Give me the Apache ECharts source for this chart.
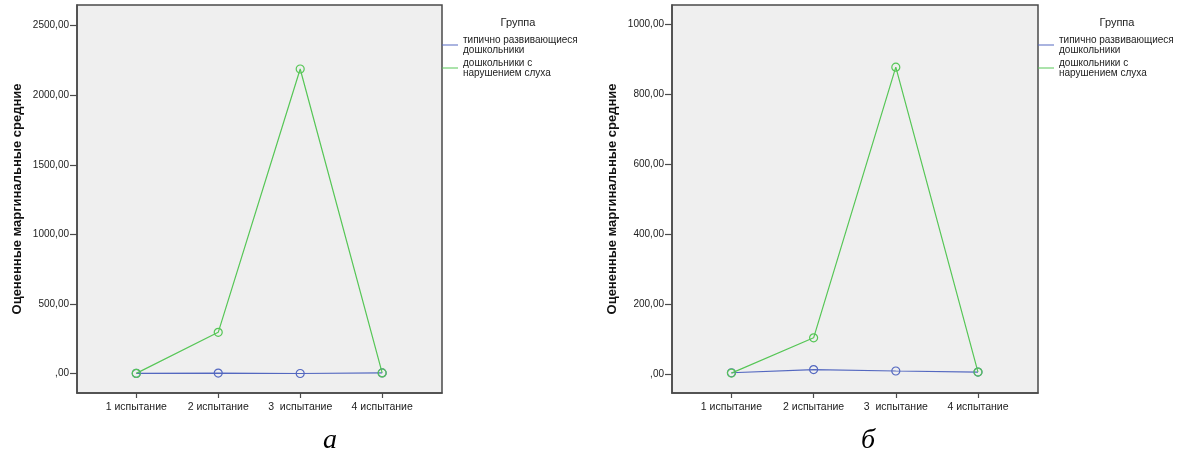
<!DOCTYPE html>
<html>
<head>
<meta charset="utf-8">
<script src="https://cdn.jsdelivr.net/npm/echarts@6/dist/echarts.min.js"></script>
<style>html,body{margin:0;padding:0;background:#fff}#c{width:1190px;height:457px}</style>
</head>
<body>
<div id="c"></div>
<script>
const categories = ['1 испытание', '2 испытание', '3  испытание', '4 испытание'];
const seriesNames = ['типично развивающиеся дошкольники', 'дошкольники с нарушением слуха'];
const legendLabels = ['типично развивающиеся\nдошкольники', 'дошкольники с\nнарушением слуха'];
const typicalA = [2, 4, 1, 5];
const hearingA = [2, 297, 2189, 5];
const typicalB = [3, 12, 8, 5];
const hearingB = [2, 103, 878, 5];
const yTicksA = [0, 500, 1000, 1500, 2000, 2500];
const yTicksB = [0, 200, 400, 600, 800, 1000];
const yRangeA = [-139, 2649];
const yRangeB = [-55, 1056];
const yAxisTitle = 'Оцененные маргинальные средние';
const legendTitle = 'Группа';
const panelLabels = ['а', 'б'];

const FONT = 'Arial, "Liberation Sans", sans-serif';
const BLUE = '#5468c0';
const GREEN = '#56c656';
const COLORS = [BLUE, GREEN];
const AXIS = '#4a4a4a';

function fmtY(v) {
  if (v === 0) return ',00';
  return v.toFixed(2).replace('.', ',');
}
function toPts(arr) { return arr.map((v, i) => [i + 1, v]); }

const grids = [
  { left: 77, top: 5, width: 365, height: 388 },
  { left: 672, top: 5, width: 366, height: 388 }
];

function xAxis(gi) {
  return {
    type: 'value', gridIndex: gi, min: 0.277, max: 4.73,
    axisLine: { show: true, onZero: false, lineStyle: { color: AXIS, width: 1.5 } },
    axisTick: { show: true, length: 5, customValues: [1, 2, 3, 4], lineStyle: { color: AXIS, width: 1.2 } },
    axisLabel: {
      customValues: [1, 2, 3, 4], margin: 9, color: '#222', fontSize: 10.5, fontFamily: FONT,
      formatter: v => categories[Math.round(v) - 1]
    },
    splitLine: { show: false }
  };
}
function yAxis(gi, range, ticks) {
  return {
    type: 'value', gridIndex: gi, min: range[0], max: range[1],
    name: yAxisTitle, nameLocation: 'middle', nameGap: 53,
    nameTextStyle: { fontSize: 13, fontWeight: 'bold', color: '#111', fontFamily: FONT },
    axisLine: { show: true, onZero: false, lineStyle: { color: AXIS, width: 1.5 } },
    axisTick: { show: true, length: 7, customValues: ticks, lineStyle: { color: AXIS, width: 1.2 } },
    axisLabel: { customValues: ticks, margin: 8, color: '#222', fontSize: 10, fontFamily: FONT, formatter: fmtY },
    splitLine: { show: false }
  };
}
function line(name, gi, data, color) {
  return {
    type: 'line', name: name, xAxisIndex: gi, yAxisIndex: gi, data: toPts(data),
    symbol: 'circle', symbolSize: 8, showSymbol: true,
    lineStyle: { color: color, width: 1.2 },
    itemStyle: { color: 'rgba(0,0,0,0)', borderColor: color, borderWidth: 1.2 },
    emphasis: { disabled: true }, animation: false
  };
}
function legend(left) {
  return {
    left: left, top: 35, padding: 0, orient: 'vertical', itemWidth: 16, itemHeight: 1, itemGap: 3,
    icon: 'rect', selectedMode: false,
    data: seriesNames.map((n, i) => ({ name: n, itemStyle: { color: COLORS[i], borderWidth: 0 } })),
    formatter: n => legendLabels[seriesNames.indexOf(n)],
    textStyle: { fontSize: 10, lineHeight: 10, color: '#222', fontFamily: FONT }
  };
}

const chart = echarts.init(document.getElementById('c'), null, { renderer: 'canvas' });
chart.setOption({
  animation: false,
  color: COLORS,
  grid: grids.map(g => Object.assign({ show: true, backgroundColor: '#efefef', borderColor: AXIS, borderWidth: 1.5 }, g)),
  xAxis: [xAxis(0), xAxis(1)],
  yAxis: [yAxis(0, yRangeA, yTicksA), yAxis(1, yRangeB, yTicksB)],
  legend: [legend(442), legend(1038)],
  title: [
    { text: legendTitle, left: 513, top: 12, textAlign: 'center', textStyle: { fontSize: 11, fontWeight: 'normal', color: '#222', fontFamily: FONT } },
    { text: legendTitle, left: 1112, top: 12, textAlign: 'center', textStyle: { fontSize: 11, fontWeight: 'normal', color: '#222', fontFamily: FONT } },
    { text: panelLabels[0], left: 325, top: 422, textAlign: 'center', textStyle: { fontSize: 28, fontStyle: 'italic', fontWeight: 'normal', color: '#000', fontFamily: '"Liberation Serif", "Times New Roman", serif' } },
    { text: panelLabels[1], left: 863, top: 422, textAlign: 'center', textStyle: { fontSize: 28, fontStyle: 'italic', fontWeight: 'normal', color: '#000', fontFamily: '"Liberation Serif", "Times New Roman", serif' } }
  ],
  series: [
    line(seriesNames[0], 0, typicalA, BLUE),
    line(seriesNames[1], 0, hearingA, GREEN),
    line(seriesNames[0], 1, typicalB, BLUE),
    line(seriesNames[1], 1, hearingB, GREEN)
  ]
});
</script>
</body>
</html>
